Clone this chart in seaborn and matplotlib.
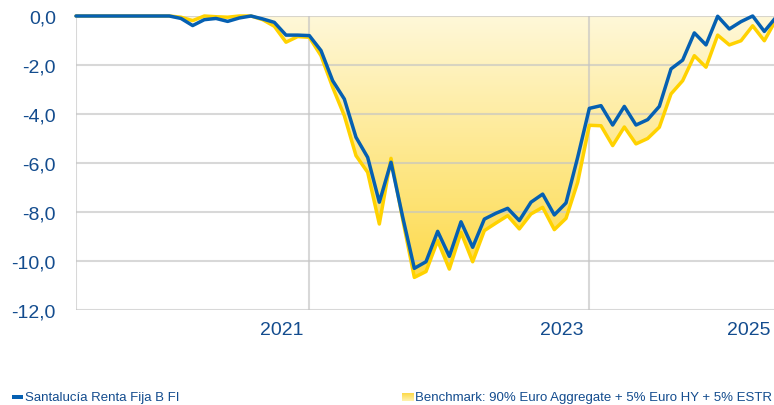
import numpy as np
import pandas as pd
import seaborn as sns
import matplotlib.pyplot as plt
import matplotlib.transforms as mtransforms
from matplotlib.colors import LinearSegmentedColormap
from matplotlib.patches import Rectangle
from matplotlib.ticker import FuncFormatter

# drawdown (%) per period
fund = [0.0, 0.0, 0.0, 0.0, 0.0, 0.0, 0.0, 0.0, 0.0, -0.1,
        -0.39, -0.15, -0.1, -0.22, -0.08, 0.0, -0.12, -0.26, -0.78, -0.78,
        -0.8, -1.41, -2.64, -3.39, -4.95, -5.77, -7.6, -5.97, -8.2, -10.3,
        -10.03, -8.79, -9.81, -8.4, -9.44, -8.29, -8.05, -7.85, -8.35, -7.6,
        -7.27, -8.12, -7.63, -5.77, -3.77, -3.66, -4.45, -3.69, -4.45, -4.23,
        -3.69, -2.16, -1.8, -0.69, -1.18, -0.01, -0.53, -0.23, 0.0, -0.63,
        -0.05]
benchmark = [0.0, 0.0, 0.0, 0.0, 0.0, 0.0, 0.0, 0.0, 0.0, -0.05,
             -0.19, 0.0, -0.03, -0.05, 0.0, 0.0, -0.15, -0.42, -1.07, -0.84,
             -0.87, -1.62, -2.91, -4.07, -5.7, -6.38, -8.49, -5.81, -8.3, -10.67,
             -10.43, -9.17, -10.33, -8.83, -10.03, -8.76, -8.45, -8.15, -8.69, -8.08,
             -7.81, -8.72, -8.26, -6.79, -4.46, -4.48, -5.29, -4.53, -5.22, -5.0,
             -4.54, -3.18, -2.64, -1.62, -2.09, -0.78, -1.18, -1.01, -0.4, -1.01,
             -0.15]
year_ticks = [0, 20, 44, 60]
year_labels = ["", "2021", "2023", "2025"]
fund_name = "Santalucía Renta Fija B FI"
bench_name = "Benchmark: 90% Euro Aggregate + 5% Euro HY + 5% ESTR"

BLUE = "#0560b2"
YELLOW = "#ffd200"
TEXT = "#134c8e"
GRID = "#c4c4c4"

df = pd.DataFrame({"idx": np.arange(len(fund)), "fund": fund, "benchmark": benchmark})

sns.set_style("white")
plt.rcParams["font.family"] = ["Liberation Sans", "DejaVu Sans"]

W, H = 774, 406
fig = plt.figure(figsize=(W / 100, H / 100), dpi=100)
ax = fig.add_axes([76 / W, (H - 311) / H, 700 / W, 294 / H])

# gradient fill between 0 and benchmark
poly = ax.fill_between(df["idx"], df["benchmark"], 0, facecolor="none", edgecolor="none")
cmap = LinearSegmentedColormap.from_list("fill", ["#fdd947", "#fff8d9"])
grad = np.linspace(0, 1, 256).reshape(-1, 1)
img = ax.imshow(grad, cmap=cmap, aspect="auto", origin="lower",
                extent=[0, len(fund) - 1, -11, 0], zorder=0.2)
img.set_clip_path(poly.get_paths()[0], transform=ax.transData)

sns.lineplot(data=df, x="idx", y="benchmark", color=YELLOW, lw=2.5, ax=ax, zorder=3)
sns.lineplot(data=df, x="idx", y="fund", color=BLUE, lw=2.5, ax=ax, zorder=4)
for ln in ax.lines:
    ln.set_clip_on(False)

ax.set_xlim(0, len(fund) - 1)
ax.set_ylim(-12, 0)
ax.set_yticks(np.arange(-12, 1, 2))
ax.yaxis.set_major_formatter(FuncFormatter(lambda v, p: f"{v:.1f}".replace(".", ",")))
ax.set_xticks(year_ticks)
ax.set_xticklabels(year_labels)
ax.set_xlabel("")
ax.set_ylabel("")

ax.grid(True, color=GRID, lw=1.5, alpha=0.65)
ax.set_axisbelow(True)
for s in ax.spines.values():
    s.set_visible(False)

ax.tick_params(axis="y", length=11, width=1.5, color=GRID, pad=3.5,
               labelsize=14, labelcolor=TEXT)
ax.tick_params(axis="x", length=8, width=1.5, color=GRID, pad=0,
               labelsize=14, labelcolor=TEXT)
offset = mtransforms.ScaledTranslation(-6 / 100, 0, fig.dpi_scale_trans)
for lab in ax.get_xticklabels():
    lab.set_horizontalalignment("right")
    lab.set_transform(lab.get_transform() + offset)

# legend
fig.add_artist(Rectangle((12 / W, (H - 400) / H), 11 / W, 4 / H,
                         transform=fig.transFigure, color=BLUE, lw=0))
fig.text(25 / W, (H - 398) / H, fund_name, fontsize=9.5, color=TEXT, va="center")
lax = fig.add_axes([402 / W, (H - 402) / H, 12 / W, 8 / H])
lax.imshow(grad, cmap=LinearSegmentedColormap.from_list("leg", ["#fff3b0", "#fdd947"]),
           aspect="auto", origin="lower")
lax.axis("off")
fig.text(415 / W, (H - 398) / H, bench_name, fontsize=9.5, color=TEXT, va="center")

fig.savefig("out.png", dpi=100)
